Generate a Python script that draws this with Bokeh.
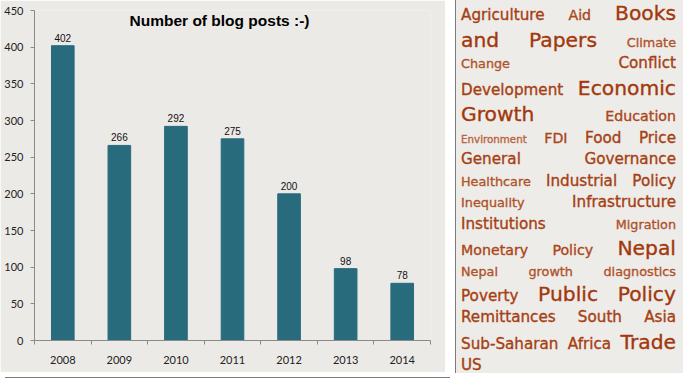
from bokeh.plotting import figure
from bokeh.models import Range1d, FixedTicker, Label, Div
from bokeh.layouts import row, column
from bokeh.embed import file_html
from bokeh.resources import INLINE
from bokeh.core.properties import value

# ---------------- data ----------------
years = ["2008", "2009", "2010", "2011", "2012", "2013", "2014"]
posts = [402, 266, 292, 275, 200, 98, 78]
y_ticks = [0, 50, 100, 150, 200, 250, 300, 350, 400, 450]

tags = ["Agriculture", "Aid", "Books and Papers", "Climate Change", "Conflict",
        "Development", "Economic Growth", "Education", "Environment", "FDI",
        "Food Price", "General", "Governance", "Healthcare", "Industrial Policy",
        "Inequality", "Infrastructure", "Institutions", "Migration",
        "Monetary Policy", "Nepal", "Nepal growth diagnostics", "Poverty",
        "Public Policy", "Remittances", "South Asia", "Sub-Saharan Africa",
        "Trade", "US"]
tag_levels = [4, 3, 5, 2, 4, 4, 5, 3, 1, 3, 4, 4, 4, 2, 4, 2, 4, 4, 2, 3, 5, 2,
              4, 5, 4, 4, 4, 5, 4]

# layout of the cloud: number of words on each line
words_per_line = [3, 3, 2, 2, 2, 4, 2, 3, 2, 2, 3, 3, 3, 3, 3, 1]

# ---------------- styles ----------------
BG_CHART = "#ECEAE7"
BG_CLOUD = "#EEECE9"
BAR = "#286B7C"
AXIS = "#8A8A8A"
LEVEL_SIZE = {1: 10.3, 2: 12.8, 3: 14.2, 4: 15.2, 5: 20.3}
LEVEL_LH = {1: 17, 2: 19, 3: 20.5, 4: 21.5, 5: 26.5}
LEVEL_COL = {1: "#B96442", 2: "#B0532A", 3: "#AA4618", 4: "#A64012", 5: "#A2380B"}

# ---------------- bar chart ----------------
n = len(years)
x_centers = [i + 0.5 for i in range(n)]

p = figure(width=445, height=372, x_range=Range1d(0, n), y_range=Range1d(0, 450),
           output_backend="svg", toolbar_location=None,
           min_border_left=34, min_border_right=15, min_border_top=10,
           min_border_bottom=32,
           background_fill_color=BG_CHART, border_fill_color=BG_CHART,
           outline_line_color=None)
p.xgrid.visible = False
p.ygrid.visible = False

p.vbar(x=x_centers, top=posts, bottom=0, width=0.4, color=BAR)
p.text(x=x_centers, y=posts, text=[str(v) for v in posts],
       text_align="center", text_baseline="alphabetic", y_offset=-8,
       text_font=value("Liberation Sans"), text_font_size="10px",
       text_color="#111111")

# y axis
ya = p.yaxis[0]
ya.ticker = FixedTicker(ticks=y_ticks)
ya.axis_line_color = AXIS
ya.major_tick_line_color = AXIS
ya.major_tick_out = 4
ya.major_tick_in = 0
ya.minor_tick_line_color = None
ya.major_label_standoff = 7
ya.major_label_text_font = "Lato"
ya.major_label_text_font_size = "11px"
ya.major_label_text_color = "#222222"

# x axis: labels under the bars, ticks between categories
xa = p.xaxis[0]
xa.ticker = FixedTicker(ticks=x_centers, minor_ticks=list(range(n + 1)))
xa.major_label_overrides = {x: y for x, y in zip(x_centers, years)}
xa.axis_line_color = AXIS
xa.major_tick_line_color = None
xa.major_tick_out = 0
xa.major_tick_in = 0
xa.minor_tick_line_color = AXIS
xa.minor_tick_out = 4
xa.minor_tick_in = 0
xa.major_label_standoff = 11
xa.major_label_text_font = "Lato"
xa.major_label_text_font_size = "11px"
xa.major_label_text_color = "#222222"

title = Label(x=3.27, y=436, text="Number of blog posts :-)",
              text_align="center", text_baseline="alphabetic",
              text_font="Liberation Sans", text_font_style="bold",
              text_font_size="15.5px", text_color="#000000")
p.add_layout(title)

bottom_line = Div(text="", width=445, height=1,
                  styles={"background-color": "#7B7B7B"})

# ---------------- tag cloud ----------------
words = []
for tag, lvl in zip(tags, tag_levels):
    for w in tag.split():
        words.append((w, lvl))

lines_html = []
idx = 0
for li, cnt in enumerate(words_per_line):
    ws = words[idx: idx + cnt]
    idx += cnt
    spans = " ".join(
        f'<span style="font-size:{LEVEL_SIZE[l]}px;line-height:{LEVEL_LH[l]}px;'
        f'color:{LEVEL_COL[l]}">{w}</span>' for w, l in ws)
    last = li == len(words_per_line) - 1
    align_last = "left" if last else "justify"
    lines_html.append(
        f'<div style="text-align:justify;text-align-last:{align_last};'
        f'white-space:nowrap;line-height:0;font-size:14px;margin:0;">{spans}</div>')

cloud_html = (
    f'<div style="box-sizing:border-box;width:228px;height:373px;'
    f'background:{BG_CLOUD};border-left:1px solid #7B7B7B;'
    f'padding:0 7px 0 5px;margin:0;font-family:\'DejaVu Sans\';'
    f'-webkit-text-stroke:0.35px currentColor;overflow:hidden;">'
    + "".join(lines_html) + '</div>')

cloud = Div(text=cloud_html, width=228, height=373, margin=(0, 0, 0, 0))

layout = row(column(p, bottom_line, spacing=0), cloud, spacing=0)

open("out.html", "w").write(file_html(layout, INLINE))
